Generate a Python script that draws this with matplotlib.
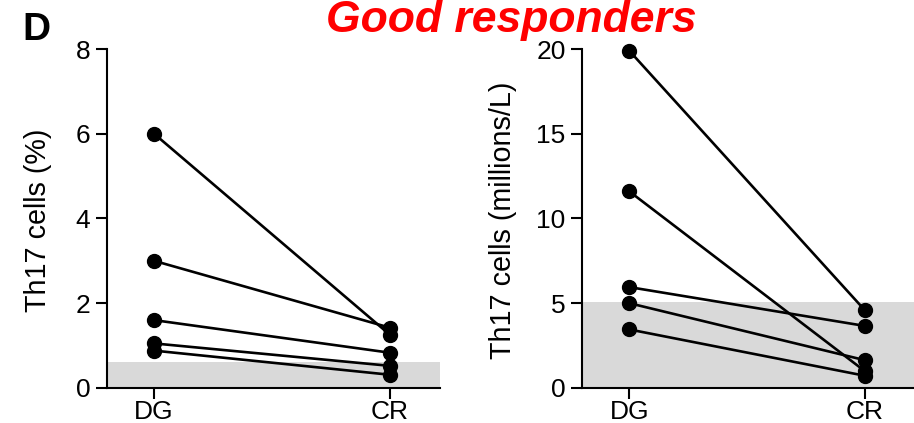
"""
Th17 细胞：Good responders 的 DG -> CR 配对变化
"""

import matplotlib
matplotlib.use('Agg')
import matplotlib.pyplot as plt

plt.rcParams['font.family'] = ['Liberation Sans', 'DejaVu Sans']

groups = ['DG', 'CR']

# 左图：Th17 cells (%)
pct_dg = [6.0, 3.0, 1.6, 1.05, 0.88]
pct_cr = [1.25, 1.42, 0.83, 0.52, 0.31]
pct_ref = 0.62  # 灰色正常范围上限

# 右图：Th17 cells (millions/L)
abs_dg = [19.9, 11.6, 5.95, 5.0, 3.45]
abs_cr = [4.6, 1.0, 3.66, 1.64, 0.72]
abs_ref = 5.05

fig = plt.figure(figsize=(9.14, 4.23), dpi=100)
ax1 = fig.add_axes([0.117, 0.083, 0.364, 0.801])
ax2 = fig.add_axes([0.637, 0.083, 0.363, 0.801])


def draw_panel(ax, dg, cr, ref, ymax, step, ylabel, label_x):
    ax.axhspan(0, ref, color='#d9d9d9', lw=0, zorder=0)
    for a, b in zip(dg, cr):
        ax.plot([0, 1], [a, b], color='black', lw=1.9, marker='o',
                markersize=10, zorder=3, clip_on=False)
    ax.set_xlim(-0.2, 1.21)
    ax.set_ylim(0, ymax)
    ax.set_xticks([0, 1])
    ax.set_xticklabels(groups)
    ax.set_yticks(range(0, ymax + 1, step))
    ax.set_ylabel(ylabel, fontsize=20.7)
    ax.yaxis.set_label_coords(label_x, 0.495)
    for s in ['top', 'right']:
        ax.spines[s].set_visible(False)
    for s in ['left', 'bottom']:
        ax.spines[s].set_linewidth(1.5)
    ax.tick_params(labelsize=19, length=8, width=1.5)
    ax.tick_params(axis='y', pad=4)
    ax.tick_params(axis='x', pad=1)


draw_panel(ax1, pct_dg, pct_cr, pct_ref, 8, 2, 'Th17 cells (%)', -0.165)
draw_panel(ax2, abs_dg, abs_cr, abs_ref, 20, 5, 'Th17 cells (millions/L)', -0.196)

fig.text(0.559, 0.925, 'Good responders', color='#ff0000', fontsize=32,
         fontweight='bold', style='italic', ha='center', va='baseline')
fig.text(0.024, 0.905, 'D', fontsize=28, fontweight='bold', va='baseline')

plt.savefig('out.png', dpi=100)
plt.close()
